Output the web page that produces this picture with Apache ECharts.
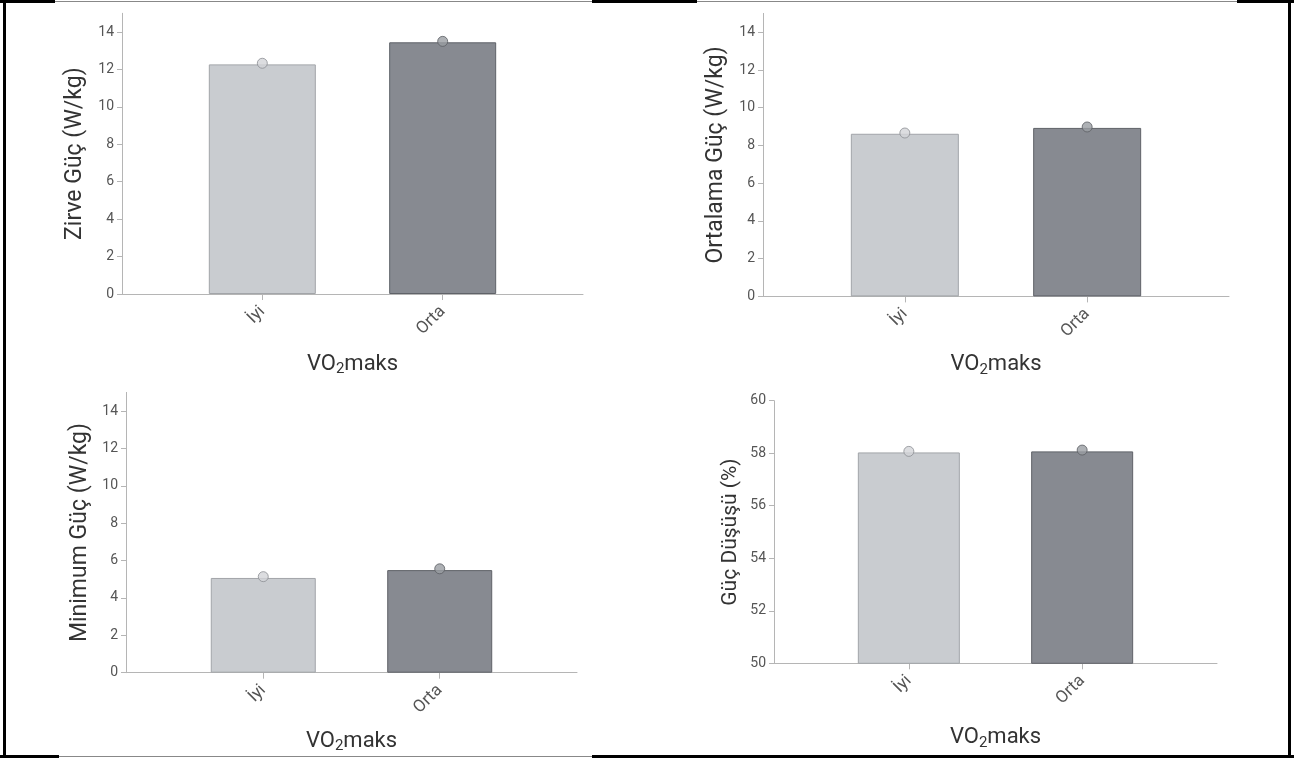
<!DOCTYPE html>
<html>
<head>
<meta charset="utf-8">
<script src="https://cdn.jsdelivr.net/npm/echarts@6/dist/echarts.min.js"></script>
<style>
  html, body { margin: 0; padding: 0; background: #fff; }
  #wrap { position: relative; width: 1294px; height: 760px; }
  #chart { position: absolute; left: 0; top: 0; width: 1294px; height: 760px; }
  .ln { position: absolute; pointer-events: none; }
</style>
</head>
<body>
<div id="wrap">
  <div id="chart"></div>
  <div class="ln" style="left:3px;top:0;width:3px;height:758px;background:#000"></div>
  <div class="ln" style="left:1288px;top:0;width:3px;height:758px;background:#000"></div>
  <div class="ln" style="left:0;top:0;width:55px;height:3px;background:#000"></div>
  <div class="ln" style="left:55px;top:1px;width:537px;height:1px;background:#888"></div>
  <div class="ln" style="left:592px;top:0;width:105px;height:3px;background:#000"></div>
  <div class="ln" style="left:697px;top:1px;width:540px;height:1px;background:#888"></div>
  <div class="ln" style="left:1237px;top:0;width:57px;height:3px;background:#000"></div>
  <div class="ln" style="left:0;top:755px;width:59px;height:3px;background:#000"></div>
  <div class="ln" style="left:59px;top:756px;width:533px;height:1px;background:#888"></div>
  <div class="ln" style="left:592px;top:755px;width:702px;height:3px;background:#000"></div>
</div>
<script>
// ---- data ----
const categories = ['İyi', 'Orta'];
const xTitle = 'VO{s|2}maks';
const yTitles = ['Zirve Güç (W/kg)', 'Ortalama Güç (W/kg)', 'Minimum Güç (W/kg)', 'Güç Düşüşü (%)'];
const peakBars = [12.27, 13.45];
const peakPoints = [12.33, 13.5];
const meanBars = [8.62, 8.93];
const meanPoints = [8.66, 8.98];
const minBars = [5.07, 5.49];
const minPoints = [5.14, 5.56];
const dropBars = [58.03, 58.07];
const dropPoints = [58.07, 58.12];
const powerTicks = [0, 2, 4, 6, 8, 10, 12, 14];
const dropTicks = [50, 52, 54, 56, 58, 60];

// ---- styles ----
const FONT = 'Roboto';
const barFill = ['#c9ccd0', '#878a91'];
const barEdge = ['#a2a5a9', '#5f6268'];
const dotFill = ['#d3d5d8', '#9a9da2'];
const dotEdge = ['#8c8f94', '#5c5f64'];
const axisGray = '#b5b5b5';

const panels = [
  { grid: { left: 122, top: 13.3, width: 461, height: 280.7 }, yMin: 0, yMax: 15, ticks: powerTicks, bars: peakBars, pts: peakPoints, bw: 107, yGap: 35, yFont: 23, xGap: 58 },
  { grid: { left: 763, top: 13.4, width: 466, height: 283 }, yMin: 0, yMax: 15, ticks: powerTicks, bars: meanBars, pts: meanPoints, bw: 108, yGap: 35, yFont: 23, xGap: 56 },
  { grid: { left: 126, top: 392.4, width: 451, height: 280.3 }, yMin: 0, yMax: 15, ticks: powerTicks, bars: minBars, pts: minPoints, bw: 105, yGap: 34, yFont: 23, xGap: 56 },
  { grid: { left: 774, top: 400.7, width: 443, height: 262.6 }, yMin: 50, yMax: 60, ticks: dropTicks, bars: dropBars, pts: dropPoints, bw: 102, yGap: 33, yFont: 21, xGap: 62 }
];

const grid = [], xAxis = [], yAxis = [], series = [];
panels.forEach((p, i) => {
  grid.push(Object.assign({ containLabel: false }, p.grid));
  xAxis.push({
    type: 'value', gridIndex: i, min: -0.778, max: 1.778,
    splitLine: { show: false },
    axisLine: { show: true, onZero: false, lineStyle: { color: axisGray, width: 1 } },
    axisTick: { show: true, length: 6, lineStyle: { color: axisGray }, customValues: [0, 1] },
    axisLabel: {
      customValues: [0, 1], rotate: 45, margin: 15,
      fontFamily: FONT, fontSize: 17, color: '#555',
      formatter: v => categories[Math.round(v)]
    },
    name: xTitle, nameLocation: 'middle', nameGap: p.xGap, nameMoveOverlap: false,
    nameTextStyle: {
      fontFamily: FONT, fontSize: 22, color: '#333',
      rich: { s: { fontFamily: FONT, fontSize: 15, color: '#333', verticalAlign: 'bottom', padding: [10, 0, 0, 0] } }
    }
  });
  yAxis.push({
    type: 'value', gridIndex: i, min: p.yMin, max: p.yMax,
    splitLine: { show: false },
    axisLine: { show: true, onZero: false, lineStyle: { color: axisGray, width: 1 } },
    axisTick: { show: true, length: 5, lineStyle: { color: axisGray }, customValues: p.ticks },
    axisLabel: { customValues: p.ticks, margin: 8, fontFamily: FONT, fontSize: 14, color: '#555' },
    name: yTitles[i], nameLocation: 'middle', nameGap: p.yGap, nameMoveOverlap: false,
    nameTextStyle: { fontFamily: FONT, fontSize: p.yFont, color: '#333' }
  });
  series.push({
    type: 'bar', xAxisIndex: i, yAxisIndex: i, barWidth: p.bw,
    data: p.bars.map((v, k) => ({ value: [k, v], itemStyle: { color: barFill[k], borderColor: barEdge[k], borderWidth: 1 } })),
    silent: true
  });
  series.push({
    type: 'scatter', xAxisIndex: i, yAxisIndex: i, symbol: 'circle', symbolSize: 10, z: 5,
    data: p.pts.map((v, k) => ({ value: [k, v], itemStyle: { color: dotFill[k], borderColor: dotEdge[k], borderWidth: 1 } })),
    silent: true
  });
});

const chart = echarts.init(document.getElementById('chart'), null, { renderer: 'canvas' });
chart.setOption({
  animation: false,
  backgroundColor: '#fff',
  textStyle: { fontFamily: FONT },
  grid, xAxis, yAxis, series
});
</script>
</body>
</html>
